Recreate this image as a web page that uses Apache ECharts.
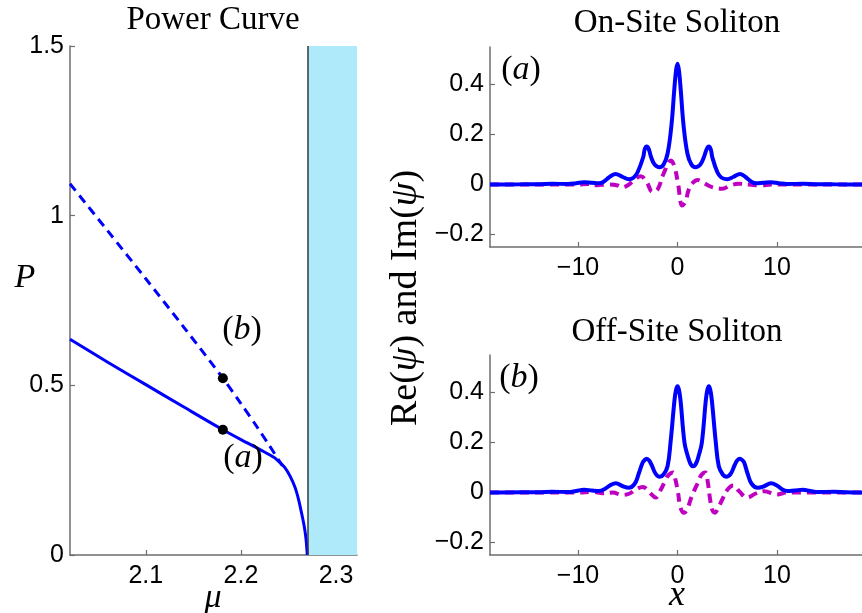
<!DOCTYPE html>
<html><head><meta charset="utf-8">
<script src="https://cdn.jsdelivr.net/npm/echarts@6/dist/echarts.min.js"></script>
<style>html,body{margin:0;padding:0;background:#fff}#c{width:862px;height:613px}</style>
</head><body><div id="c"></div>
<script>
// ---------- Power curve (left panel) ----------
const muRange = [2.0203, 2.322];
const pRange = [0, 1.5];
const muTicks = [2.1, 2.2, 2.3];
const pTicks = [0, 0.5, 1, 1.5];
const bandEdge = 2.27;               // edge of the shaded (linear spectrum) band
const onSiteMu = [2.0203, 2.06, 2.10, 2.14, 2.181, 2.20, 2.2238, 2.235, 2.2396, 2.246, 2.2519, 2.257, 2.2607, 2.264, 2.2666, 2.2685, 2.2697];
const onSiteP  = [0.636, 0.568, 0.502, 0.436, 0.369, 0.340, 0.305, 0.287, 0.276, 0.258, 0.231, 0.198, 0.162, 0.120, 0.083, 0.045, 0.0];
const offSiteMu = [2.0203, 2.06, 2.10, 2.14, 2.181, 2.20, 2.2168, 2.23, 2.2435];
const offSiteP  = [1.094, 0.955, 0.814, 0.671, 0.521, 0.446, 0.378, 0.322, 0.263];
const markMu = [2.181, 2.181];
const markP  = [0.521, 0.369];

// ---------- Soliton profiles (right panels) ----------
const xRange = [-18.85, 18.85];
const xTicks = [-10, 0, 10];
const psiRange = [-0.25, 0.55];
const psiTicks = [-0.2, 0, 0.2, 0.4];

const onReX = [-18.85,-16,-14,-12.6,-11,-10.2,-9.4,-8.6,-7.9,-7.4,-6.9,-6.25,-5.5,-4.9,-4.4,-4.0,-3.45,-3.3,-3.1,-2.9,-2.65,-2.3,-1.8,-1.4,-1.0,-0.6,-0.33,-0.15,0,0.15,0.33,0.6,1.0,1.4,1.8,2.3,2.65,2.95,3.15,3.35,3.5,4.0,4.4,5.0,5.6,6.3,6.9,7.4,7.9,8.6,9.4,10.2,11,12.6,14,16,18.85];
const onReY = [0,0.0005,0.001,0.003,0.002,0.005,0.009,0.007,0.005,0.012,0.028,0.042,0.030,0.021,0.028,0.050,0.109,0.140,0.152,0.143,0.109,0.080,0.069,0.080,0.123,0.240,0.376,0.455,0.483,0.455,0.376,0.240,0.123,0.080,0.069,0.080,0.109,0.143,0.152,0.140,0.109,0.050,0.028,0.021,0.030,0.042,0.028,0.012,0.005,0.007,0.009,0.005,0.002,0.003,0.001,0.0005,0];
const onImX = [-18.85,-10,-9,-8.1,-7,-6.0,-5.6,-5.0,-4.3,-3.7,-3.1,-2.5,-2.0,-1.4,-0.65,-0.3,0.05,0.47,0.8,1.1,1.5,2.0,2.5,3.1,3.6,4.5,5.3,6.1,7.2,8.3,9.5,18.85];
const onImY = [0,0,0.002,-0.003,0,-0.004,-0.011,-0.003,0.020,0.033,0.010,-0.030,-0.020,0.043,0.096,0.070,0.005,-0.084,-0.070,-0.024,0.005,0.018,0.010,-0.004,-0.012,-0.017,-0.004,0.003,0,-0.004,0,0];

const offReX = [-18.85,-15.7,-14,-12.6,-11,-10.2,-9.4,-8.6,-7.9,-7.4,-6.8,-6.2,-5.5,-4.9,-4.3,-3.9,-3.5,-3.3,-3.1,-2.85,-2.6,-2.2,-1.8,-1.4,-1.0,-0.7,-0.3,-0.15,0,0.15,0.3,0.7,1.0,1.3,1.57,1.85,2.15,2.45,2.85,3.0,3.15,3.3,3.45,3.85,4.15,4.55,4.9,5.35,5.75,6.0,6.28,6.5,6.7,7.05,7.45,8.05,8.7,9.4,10.0,10.55,11.05,11.75,12.6,13.35,14.2,15.7,17,18.85];
const offReY = [0,0.001,0.001,0.003,0.002,0.006,0.011,0.008,0.006,0.012,0.028,0.037,0.025,0.019,0.035,0.075,0.120,0.130,0.135,0.128,0.110,0.075,0.063,0.072,0.105,0.200,0.370,0.410,0.425,0.410,0.370,0.200,0.150,0.115,0.105,0.115,0.150,0.200,0.370,0.410,0.425,0.410,0.370,0.200,0.105,0.072,0.063,0.075,0.110,0.128,0.135,0.130,0.120,0.075,0.035,0.019,0.025,0.037,0.028,0.012,0.006,0.008,0.011,0.006,0.002,0.003,0.001,0];
const offImX = [-18.85,-10,-8.5,-7.5,-6.5,-5.6,-4.8,-4.2,-3.5,-2.8,-2.2,-1.7,-1.2,-0.9,-0.45,-0.2,0.05,0.3,0.65,1.0,1.3,1.6,2.0,2.4,2.8,3.05,3.25,3.5,3.75,4.1,4.5,5.0,5.6,6.2,7.0,7.8,8.7,10.0,11,18.85];
const offImY = [0,0,0.002,-0.003,0,-0.010,-0.004,0.012,0.022,0,-0.020,0.010,0.050,0.070,0.080,0.050,0,-0.060,-0.081,-0.065,-0.030,0,0.035,0.070,0.080,0.040,-0.020,-0.070,-0.081,-0.060,-0.028,0.010,0.028,0.005,-0.021,-0.005,0.005,-0.008,0,0];

// ---------- helpers ----------
const zip = (a, b) => a.map((v, i) => [v, b[i]]);
const BLUE = '#0000ff', MAG = '#c000c0', AX = '#6e6e6e';
const SANS = 'Liberation Sans', SERIF = 'Liberation Serif';
const fmt = v => (v < 0 ? '\u2212' + String(-v) : String(v));

function xAx(grid, range, ticks) {
  return {
    gridIndex: grid, type: 'value', min: range[0], max: range[1],
    axisLine: { show: true, onZero: false, lineStyle: { color: AX, width: 1.5 } },
    axisTick: { show: true, inside: true, length: 5, customValues: ticks, lineStyle: { color: AX, width: 1.2 } },
    axisLabel: { customValues: ticks, formatter: fmt, fontFamily: SANS, fontSize: 25, color: '#000', margin: 9 },
    splitLine: { show: false }
  };
}
function yAx(grid, range, ticks) {
  return {
    gridIndex: grid, type: 'value', min: range[0], max: range[1],
    axisLine: { show: true, onZero: false, lineStyle: { color: AX, width: 1.5 } },
    axisTick: { show: true, inside: true, length: 5, customValues: ticks, lineStyle: { color: AX, width: 1.2 } },
    axisLabel: { customValues: ticks, formatter: fmt, fontFamily: SANS, fontSize: 25, color: '#000', margin: 6 },
    splitLine: { show: false }
  };
}
function txt(x, y, text, size, italic, rot) {
  return {
    type: 'text', x: x, y: y, rotation: rot || 0, z: 100,
    style: {
      text: text, fill: '#000', fontFamily: SERIF, fontSize: size,
      fontStyle: italic ? 'italic' : 'normal', align: 'center', verticalAlign: 'middle',
      rich: { i: { fontFamily: SERIF, fontSize: size, fontStyle: 'italic', fill: '#000' },
              n: { fontFamily: SERIF, fontSize: size, fill: '#000' } }
    }
  };
}

const chart = echarts.init(document.getElementById('c'), null, { renderer: 'canvas' });
chart.setOption({
  animation: false,
  backgroundColor: '#fff',
  grid: [
    { left: 70, top: 46, width: 287, height: 509, outerBoundsMode: 'none' },
    { left: 490, top: 47, width: 375, height: 200, outerBoundsMode: 'none' },
    { left: 490, top: 355, width: 375, height: 200, outerBoundsMode: 'none' }
  ],
  xAxis: [xAx(0, muRange, muTicks), xAx(1, xRange, xTicks), xAx(2, xRange, xTicks)],
  yAxis: [
    Object.assign(yAx(0, pRange, pTicks), { interval: 0.5 }),
    yAx(1, psiRange, psiTicks),
    yAx(2, psiRange, psiTicks)
  ],
  series: [
    {
      type: 'line', xAxisIndex: 0, yAxisIndex: 0, data: zip(onSiteMu, onSiteP),
      showSymbol: false, smooth: 0.3, lineStyle: { color: BLUE, width: 3 }, z: 3,
      markArea: { silent: true, itemStyle: { color: '#aeeafa' },
        data: [[{ xAxis: bandEdge }, { xAxis: muRange[1] }]] },
      markLine: { silent: true, symbol: 'none', label: { show: false },
        lineStyle: { color: '#3a3a3a', width: 1.5, type: 'solid' },
        data: [{ xAxis: bandEdge }] }
    },
    {
      type: 'line', xAxisIndex: 0, yAxisIndex: 0, data: zip(offSiteMu, offSiteP),
      showSymbol: false, smooth: 0.3, lineStyle: { color: BLUE, width: 3, type: [9, 6] }, z: 3
    },
    {
      type: 'scatter', xAxisIndex: 0, yAxisIndex: 0, data: zip(markMu, markP),
      symbolSize: 10, itemStyle: { color: '#000', opacity: 1 }, z: 5
    },
    {
      type: 'line', xAxisIndex: 1, yAxisIndex: 1, data: zip(onImX, onImY),
      showSymbol: false, smooth: 0.4, lineStyle: { color: MAG, width: 4, type: [9, 6] }, z: 2
    },
    {
      type: 'line', xAxisIndex: 1, yAxisIndex: 1, data: zip(onReX, onReY),
      showSymbol: false, smooth: 0.4, lineStyle: { color: BLUE, width: 4 }, z: 3
    },
    {
      type: 'line', xAxisIndex: 2, yAxisIndex: 2, data: zip(offImX, offImY),
      showSymbol: false, smooth: 0.4, lineStyle: { color: MAG, width: 4, type: [9, 6] }, z: 2
    },
    {
      type: 'line', xAxisIndex: 2, yAxisIndex: 2, data: zip(offReX, offReY),
      showSymbol: false, smooth: 0.4, lineStyle: { color: BLUE, width: 4 }, z: 3
    }
  ],
  graphic: [
    txt(213, 20, 'Power Curve', 33, false),
    txt(677, 23, 'On-Site Soliton', 33, false),
    txt(677, 332, 'Off-Site Soliton', 33, false),
    txt(25, 278, 'P', 34, true),
    txt(213, 598, '\u03bc', 34, true),
    txt(677, 596, 'x', 36, true),
    txt(406, 298, '{n|Re(}{i|\u03c8}{n|) and Im(}{i|\u03c8}{n|)}', 38, false, Math.PI / 2),
    txt(242, 330, '{n|(}{i|b}{n|)}', 34, false),
    txt(243, 458, '{n|(}{i|a}{n|)}', 34, false),
    txt(521, 70, '{n|(}{i|a}{n|)}', 34, false),
    txt(519, 378, '{n|(}{i|b}{n|)}', 34, false)
  ]
});
</script></body></html>
